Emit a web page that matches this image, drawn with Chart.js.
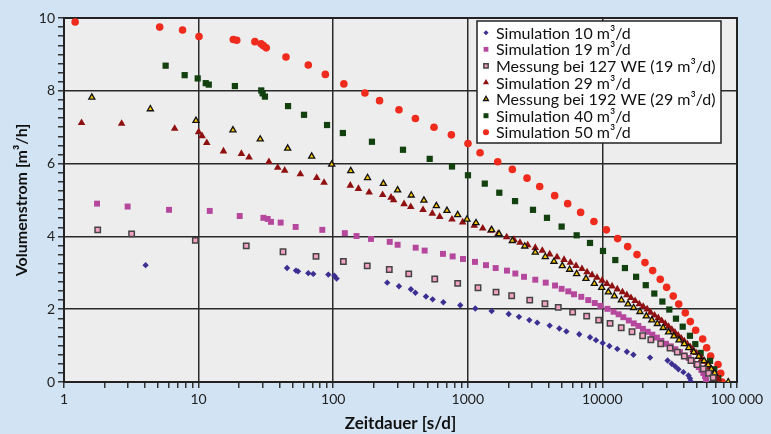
<!DOCTYPE html>
<html>
<head>
<meta charset="utf-8">
<script src="https://cdn.jsdelivr.net/npm/chart.js@4.4.1/dist/chart.umd.min.js"></script>
<style>
  html, body { margin: 0; padding: 0; background: #d2e3f3; }
</style>
</head>
<body>
<canvas id="chart" width="771" height="434"></canvas>
<script>
// Simulation 10 m³/d
var sim10X = [4.04, 45.4, 52.9, 54.8, 65.3, 71.1, 92, 102, 106, 252, 308, 378, 408, 489, 548, 658, 879, 1137, 1504, 2013, 2400, 2865, 3281, 4056, 4786, 5400, 6730, 8090, 8960, 10050, 11270, 12900, 15200, 17000, 22600, 30500, 32700, 34700, 36700, 40000, 43600, 44700, 45300];
var sim10Y = [3.21, 3.13, 3.06, 3.04, 2.99, 2.97, 2.95, 2.92, 2.84, 2.73, 2.63, 2.55, 2.45, 2.35, 2.27, 2.19, 2.11, 2.02, 1.95, 1.87, 1.79, 1.70, 1.63, 1.55, 1.47, 1.39, 1.31, 1.23, 1.15, 1.07, 0.99, 0.91, 0.83, 0.75, 0.67, 0.59, 0.50, 0.43, 0.35, 0.27, 0.18, 0.10, 0.02];

// Simulation 19 m³/d
var sim19X = [1.76, 2.97, 6.03, 12.1, 20.2, 30.3, 32.6, 34.5, 40.7, 52.6, 83, 122, 149, 191, 263, 301, 410, 478, 654, 772, 921, 1131, 1365, 1611, 1955, 2255, 2617, 3172, 3793, 4446, 4980, 5580, 6150, 6970, 7850, 8770, 9660, 10900, 12100, 13200, 14300, 15700, 17100, 18500, 20000, 21700, 23500, 25400, 27400, 29700, 32200, 34800, 37700, 40600, 43800, 46600, 49600, 52000, 54400, 56200, 57900, 58900];
var sim19Y = [4.90, 4.82, 4.73, 4.70, 4.56, 4.51, 4.48, 4.40, 4.38, 4.26, 4.18, 4.09, 4.01, 3.93, 3.85, 3.77, 3.69, 3.61, 3.52, 3.45, 3.38, 3.30, 3.21, 3.13, 3.06, 2.98, 2.89, 2.81, 2.73, 2.65, 2.56, 2.49, 2.41, 2.34, 2.25, 2.17, 2.09, 2.01, 1.93, 1.86, 1.78, 1.69, 1.61, 1.54, 1.46, 1.38, 1.30, 1.22, 1.13, 1.05, 0.98, 0.90, 0.82, 0.73, 0.66, 0.58, 0.49, 0.41, 0.33, 0.25, 0.16, 0.05];

// Messung bei 127 WE (19 m³/d)
var mess127X = [1.78, 3.18, 9.46, 22.6, 42.4, 74.5, 119, 179, 261, 364, 568, 841, 1191, 1621, 2118, 2884, 3743, 4700, 6010, 7640, 9380, 11400, 13800, 16600, 19900, 22900, 27100, 31800, 36000, 40600, 45500, 50700, 56200, 61600, 66500];
var mess127Y = [4.18, 4.07, 3.89, 3.74, 3.58, 3.45, 3.31, 3.19, 3.09, 2.97, 2.83, 2.71, 2.59, 2.47, 2.37, 2.25, 2.15, 2.05, 1.92, 1.81, 1.70, 1.61, 1.49, 1.38, 1.27, 1.16, 1.05, 0.93, 0.82, 0.71, 0.59, 0.48, 0.36, 0.24, 0.12];

// Simulation 29 m³/d
var sim29X = [1.35, 2.68, 6.64, 10.0, 10.6, 11.5, 15.3, 20.8, 23.7, 33.3, 38.7, 43.6, 57, 75.4, 85.5, 134, 154, 185, 233, 269, 281, 336, 377, 465, 545, 618, 763, 916, 1117, 1291, 1480, 1676, 1945, 2204, 2442, 2786, 3172, 3575, 4056, 4600, 5190, 5780, 6370, 7050, 7690, 8380, 9120, 9940, 10800, 11800, 12900, 14100, 15200, 16300, 17500, 18800, 20100, 21500, 22800, 24400, 26000, 27600, 29300, 31000, 32800, 34600, 36500, 38500, 40600, 42800, 45000, 47300, 49700, 52200, 54800, 57400, 60000, 62500, 65000, 67500, 70000, 72500];
var sim29Y = [7.12, 7.10, 6.96, 6.87, 6.76, 6.57, 6.34, 6.27, 6.17, 6.05, 5.89, 5.81, 5.71, 5.61, 5.48, 5.40, 5.31, 5.21, 5.14, 5.07, 5.00, 4.89, 4.81, 4.73, 4.63, 4.54, 4.47, 4.39, 4.30, 4.22, 4.16, 4.07, 3.98, 3.91, 3.83, 3.76, 3.69, 3.61, 3.51, 3.43, 3.36, 3.28, 3.19, 3.11, 3.02, 2.94, 2.87, 2.79, 2.70, 2.63, 2.55, 2.47, 2.39, 2.31, 2.23, 2.14, 2.07, 2.00, 1.91, 1.83, 1.76, 1.68, 1.60, 1.52, 1.44, 1.36, 1.28, 1.20, 1.12, 1.04, 0.96, 0.88, 0.80, 0.72, 0.64, 0.56, 0.48, 0.40, 0.32, 0.24, 0.16, 0.08];

// Messung bei 192 WE (29 m³/d)
var mess192X = [1.61, 4.38, 9.56, 18.0, 28.7, 45.9, 69.2, 97.5, 135, 180, 236, 301, 380, 472, 584, 700, 841, 986, 1150, 1504, 1706, 2142, 2648, 3172, 3763, 4368, 5036, 5710, 6440, 7550, 8710, 9880, 11070, 12270, 13840, 15500, 17070, 19000, 21200, 23300, 25600, 28300, 31000, 34000, 37100, 40600, 43800, 47700, 52000, 56900, 61200, 64500, 68300, 86100];
var mess192Y = [7.82, 7.50, 7.18, 6.92, 6.67, 6.42, 6.20, 5.98, 5.80, 5.61, 5.45, 5.27, 5.13, 4.99, 4.84, 4.71, 4.59, 4.47, 4.37, 4.18, 4.07, 3.88, 3.73, 3.56, 3.44, 3.31, 3.19, 3.09, 2.97, 2.84, 2.70, 2.59, 2.47, 2.36, 2.25, 2.14, 2.04, 1.93, 1.81, 1.70, 1.60, 1.49, 1.37, 1.26, 1.15, 1.05, 0.94, 0.82, 0.70, 0.58, 0.47, 0.35, 0.24, 0.0];

// Simulation 40 m³/d
var sim40X = [5.69, 7.88, 9.85, 11.3, 11.9, 18.6, 29.2, 29.9, 31.1, 46.2, 60.7, 90, 118, 194, 330, 521, 763, 1003, 1337, 1714, 2244, 3050, 3875, 4980, 6440, 8090, 10100, 12470, 14700, 17800, 21000, 24300, 27900, 31400, 35200, 39500, 44700, 49000, 53700, 63000, 67800, 72600];
var sim40Y = [8.69, 8.43, 8.34, 8.21, 8.17, 8.13, 8.01, 7.93, 7.84, 7.58, 7.34, 7.06, 6.84, 6.60, 6.38, 6.13, 5.92, 5.68, 5.45, 5.20, 4.97, 4.73, 4.51, 4.27, 4.03, 3.82, 3.60, 3.35, 3.13, 2.89, 2.66, 2.43, 2.21, 1.99, 1.74, 1.52, 1.27, 1.04, 0.80, 0.58, 0.35, 0.10];

// Simulation 50 m³/d
var sim50X = [1.21, 5.14, 7.6, 10.07, 18.1, 19.2, 26.2, 29.1, 30.3, 31.8, 44.6, 65.3, 87.4, 120, 172, 221, 308, 408, 561, 755, 1003, 1233, 1668, 2142, 2754, 3420, 4420, 5520, 6890, 8650, 10700, 12970, 15400, 18070, 20710, 23620, 26900, 30000, 33600, 36900, 41300, 45000, 49300, 55600, 59500, 63700, 72300, 75700, 77400];
var sim50Y = [9.89, 9.75, 9.67, 9.49, 9.41, 9.39, 9.35, 9.29, 9.24, 9.18, 8.93, 8.71, 8.45, 8.19, 7.94, 7.73, 7.48, 7.24, 7.00, 6.79, 6.55, 6.30, 6.05, 5.84, 5.60, 5.37, 5.12, 4.90, 4.66, 4.41, 4.18, 3.94, 3.72, 3.50, 3.28, 3.06, 2.82, 2.60, 2.36, 2.14, 1.90, 1.66, 1.42, 1.18, 0.94, 0.71, 0.48, 0.24, 0.0];

var seriesLabels = ['Simulation 10 m³/d', 'Simulation 19 m³/d', 'Messung bei 127 WE (19 m³/d)', 'Simulation 29 m³/d', 'Messung bei 192 WE (29 m³/d)', 'Simulation 40 m³/d', 'Simulation 50 m³/d'];
var xTickLabels = {1: '1', 10: '10', 100: '100', 1000: '1000', 10000: '10000', 100000: '100 000'};
var yTickLabels = [0, 2, 4, 6, 8, 10];

var FONT = 'Lato, "Noto Sans", sans-serif';

function pts(xs, ys) {
    return xs.map(function (x, i) { return {x: x, y: ys[i]}; });
}

function isDecade(v) {
    var l = Math.log10(v);
    return Math.abs(l - Math.round(l)) < 1e-9;
}

// fond + cadre de la zone de tracé
var plotFrame = {
    id: 'plotFrame',
    beforeDraw: function (chart) {
        var ctx = chart.ctx, a = chart.chartArea;
        ctx.save();
        ctx.fillStyle = '#d2e3f3';
        ctx.fillRect(0, 0, chart.width, chart.height);
        ctx.fillStyle = '#ededed';
        ctx.fillRect(a.left, a.top, a.right - a.left, a.bottom - a.top);
        ctx.restore();
    },
    beforeDatasetsDraw: function (chart) {
        var ctx = chart.ctx, a = chart.chartArea;
        ctx.save();
        ctx.strokeStyle = '#222';
        ctx.lineWidth = 2;
        ctx.strokeRect(a.left, a.top, a.right - a.left, a.bottom - a.top);
        ctx.restore();
    }
};

// légende encadrée dans le coin haut droit
var legendBox = {
    id: 'legendBox',
    afterDraw: function (chart) {
        var ctx = chart.ctx, a = chart.chartArea;
        var w = 244, h = 122;
        var x0 = a.right - 16 - w, y0 = a.top + 3;
        var rowH = 16.6;
        ctx.save();
        ctx.fillStyle = '#ffffff';
        ctx.fillRect(x0, y0, w, h);
        ctx.strokeStyle = '#222';
        ctx.lineWidth = 1.5;
        ctx.strokeRect(x0, y0, w, h);
        ctx.font = '16px ' + FONT;
        ctx.textBaseline = 'middle';
        chart.data.datasets.forEach(function (ds, i) {
            var cy = y0 + 11.7 + i * rowH;
            ctx.fillStyle = ds.backgroundColor;
            ctx.strokeStyle = ds.borderColor;
            ctx.lineWidth = ds.borderWidth;
            Chart.helpers.drawPoint(ctx, {
                pointStyle: ds.pointStyle,
                radius: ds.pointRadius * 0.8,
                rotation: 0,
                borderWidth: ds.borderWidth
            }, x0 + 9, cy);
            ctx.fillStyle = '#111';
            ctx.fillText(ds.label, x0 + 19, cy + 1);
        });
        ctx.restore();
    }
};

function makeSet(label, data, style, radius, fill, border, bw, order) {
    return {
        label: label,
        data: data,
        pointStyle: style,
        pointRadius: radius,
        pointHoverRadius: radius,
        backgroundColor: fill,
        borderColor: border,
        borderWidth: bw,
        showLine: false,
        order: order
    };
}

var datasets = [
    makeSet(seriesLabels[0], pts(sim10X, sim10Y), 'rectRot', 3.2, '#3b2f91', '#3b2f91', 0, 1),
    makeSet(seriesLabels[1], pts(sim19X, sim19Y), 'rect', 4.2, '#b5479d', '#b5479d', 0, 2),
    makeSet(seriesLabels[2], pts(mess127X, mess127Y), 'rect', 3.8, '#f5a3c4', '#444444', 1.5, 0),
    makeSet(seriesLabels[3], pts(sim29X, sim29Y), 'triangle', 4.4, '#8e1010', '#8e1010', 0, 2),
    makeSet(seriesLabels[4], pts(mess192X, mess192Y), 'triangle', 3.5, '#f7c600', '#111111', 1.3, 0),
    makeSet(seriesLabels[5], pts(sim40X, sim40Y), 'rect', 4.4, '#12400f', '#12400f', 0, 2),
    makeSet(seriesLabels[6], pts(sim50X, sim50Y), 'circle', 3.8, '#ee2b1c', '#ee2b1c', 0, 2)
];

var ctx = document.getElementById('chart').getContext('2d');
var chart = new Chart(ctx, {
    type: 'scatter',
    data: {datasets: datasets},
    options: {
        responsive: false,
        animation: false,
        layout: {padding: {left: 0, right: 34, top: 18, bottom: 0}},
        plugins: {
            legend: {display: false},
            tooltip: {enabled: false}
        },
        scales: {
            x: {
                type: 'logarithmic',
                min: 1,
                max: 100000,
                afterBuildTicks: function (scale) {
                    var t = [];
                    for (var p = 1; p < 100000; p *= 10) {
                        for (var m = 1; m < 10; m++) t.push({value: m * p});
                    }
                    t.push({value: 100000});
                    scale.ticks = t;
                },
                afterFit: function (scale) { scale.height = 52; },
                ticks: {
                    autoSkip: false,
                    maxRotation: 0,
                    padding: 3,
                    color: '#222',
                    font: {family: FONT, size: 14},
                    callback: function (v) {
                        return isDecade(v) ? xTickLabels[Math.round(v)] : '';
                    }
                },
                grid: {
                    color: function (c) {
                        return c.tick && isDecade(c.tick.value) ? '#2a2a2a' : 'rgba(0,0,0,0)';
                    },
                    tickColor: '#333',
                    tickLength: 6,
                    lineWidth: 1.5
                },
                border: {display: true, color: '#222', width: 2},
                title: {
                    display: true,
                    text: 'Zeitdauer [s/d]',
                    color: '#111',
                    font: {family: FONT, size: 17, weight: 'bold'},
                    padding: {top: 0, bottom: 0}
                }
            },
            y: {
                min: 0,
                max: 10,
                afterFit: function (scale) { scale.width = 64; },
                ticks: {
                    stepSize: 0.25,
                    autoSkip: false,
                    padding: 3,
                    color: '#222',
                    font: {family: FONT, size: 14},
                    callback: function (v) {
                        return yTickLabels.indexOf(v) >= 0 ? String(v) : '';
                    }
                },
                grid: {
                    color: function (c) {
                        return c.tick && yTickLabels.indexOf(c.tick.value) >= 0 ? '#2a2a2a' : 'rgba(0,0,0,0)';
                    },
                    tickColor: '#333',
                    tickLength: 6,
                    lineWidth: 1.5
                },
                border: {display: true, color: '#222', width: 2},
                title: {
                    display: true,
                    text: 'Volumenstrom [m³/h]',
                    color: '#111',
                    font: {family: FONT, size: 16, weight: 'bold'},
                    padding: {top: 12, bottom: 0}
                }
            }
        }
    },
    plugins: [plotFrame, legendBox]
});
</script>
</body>
</html>
